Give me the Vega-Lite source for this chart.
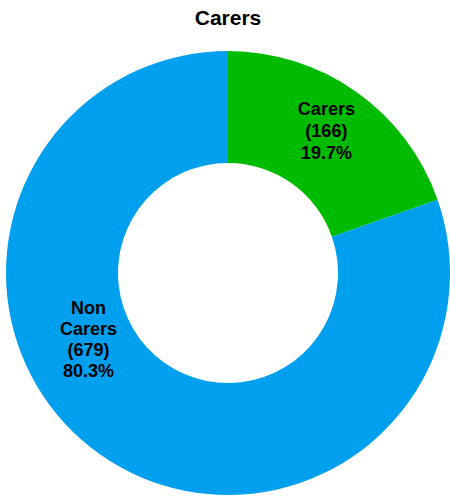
{
  "$schema": "https://vega.github.io/schema/vega-lite/v6.json",
  "autosize": "none",
  "width": 456,
  "height": 446,
  "padding": {"left": 0, "top": 50, "right": 0, "bottom": 0},
  "background": "white",
  "title": {
    "text": "Carers",
    "font": "Liberation Sans",
    "fontSize": 21,
    "fontWeight": "bold",
    "color": "black",
    "anchor": "middle",
    "offset": 21
  },
  "data": {
    "values": [
      {"group": "Carers", "count": 166, "label": "Carers\n(166)\n19.7%"},
      {"group": "Non Carers", "count": 679, "label": "Non\nCarers\n(679)\n80.3%"}
    ]
  },
  "encoding": {
    "theta": {"field": "count", "type": "quantitative", "stack": true},
    "order": {"field": "group", "sort": "ascending"}
  },
  "layer": [
    {
      "mark": {"type": "arc", "innerRadius": 110, "outerRadius": 222, "stroke": null},
      "encoding": {
        "color": {
          "field": "group",
          "type": "nominal",
          "scale": {"domain": ["Carers", "Non Carers"], "range": ["#00BB00", "#00A0EE"]},
          "legend": null
        }
      }
    },
    {
      "transform": [{"filter": "datum.group == 'Carers'"}],
      "mark": {"type": "text", "radius": 170, "dy": -24, "font": "Liberation Sans", "fontSize": 18, "fontWeight": "bold", "color": "black", "lineBreak": "\n", "lineHeight": 22, "align": "center", "baseline": "middle"},
      "encoding": {"text": {"field": "label"}}
    },
    {
      "mark": {"type": "text", "radius": 154, "thetaOffset": 0.515, "dy": -29, "font": "Liberation Sans", "fontSize": 18, "fontWeight": "bold", "color": "black", "lineBreak": "\n", "lineHeight": 21, "align": "center", "baseline": "middle"},
      "encoding": {
        "text": {
          "condition": {"test": "datum.group == 'Non Carers'", "field": "label"},
          "value": ""
        }
      }
    }
  ]
}
